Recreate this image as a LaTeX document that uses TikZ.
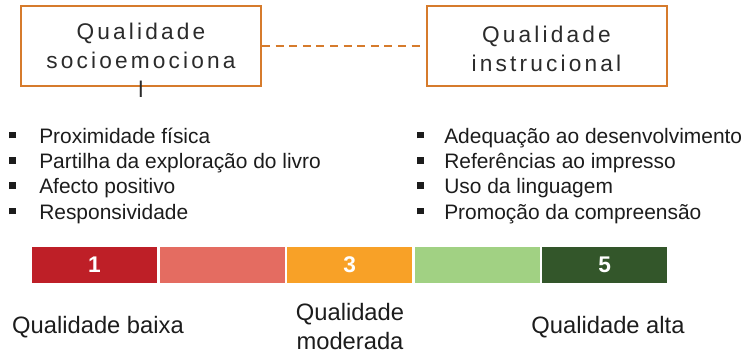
\documentclass[tikz,border=0pt]{standalone}
\usepackage{fontspec}
\setmainfont{Liberation Sans}
\usepackage{xcolor}
\usetikzlibrary{positioning}
\definecolor{boxorange}{HTML}{D67B2C}
\definecolor{boxink}{HTML}{2B2B2B}
\definecolor{listink}{HTML}{1C1C1C}
\definecolor{lowred}{HTML}{BE1F27}
\definecolor{lowpink}{HTML}{E46C61}
\definecolor{midorange}{HTML}{F8A127}
\definecolor{highlime}{HTML}{A1D183}
\definecolor{highgreen}{HTML}{33562A}
\tikzset{
  qualbox/.style={draw=boxorange,line width=1.5pt,
                  minimum width=180pt,minimum height=60pt,inner sep=0pt},
  boxtext/.style={align=center,text=boxink,inner sep=0pt,
                  font=\fontsize{17}{21.75}\selectfont\addfontfeatures{LetterSpace=14}},
  listtext/.style={align=left,text=listink,inner sep=0pt,
                   font=\fontsize{15.7}{19}\selectfont},
  barseg/.style={minimum width=93.75pt,minimum height=27pt,inner sep=0pt,
                 text=white,font=\fontsize{17}{20}\selectfont\bfseries},
  scaletext/.style={align=center,text=listink,inner sep=0pt,
                    font=\fontsize{17.8}{21.75}\selectfont},
  linkdash/.style={draw=boxorange,line width=1.5pt,dash pattern=on 6pt off 4.2pt,
                   shorten >=4pt}
}
\newcommand{\sqbul}[1][22.5pt]{\makebox[#1][l]{\rule[3.5pt]{5pt}{5pt}}}

\begin{document}
\begin{tikzpicture}[x=0.75pt,y=-0.75pt]
      \useasboundingbox (0,0) rectangle (748,351);
      % the two quality dimensions
      \node[qualbox] (socio) at (141,46) {};
      \node[qualbox] (instr) at (546.5,46) {};
      \node[boxtext,anchor=base] (sociolabel) at (141,97) {Qualidade\\socioemociona\\l};
      \node[boxtext,anchor=base] (instrlabel) at (546.5,71) {Qualidade\\instrucional};
      \draw[linkdash] (socio.east) -- (instr.west);

      % indicators of each dimension
      \node[listtext,anchor=base west] (sociolist) at (9,219)
        {\sqbul Proximidade física\\
         \sqbul Partilha da exploração do livro\\
         \sqbul Afecto positivo\\
         \sqbul Responsividade};
      \node[listtext,anchor=base west] (instrlist) at (417,219)
        {\sqbul[20.25pt]Adequação ao desenvolvimento\\
         \sqbul[20.25pt]Referências ao impresso\\
         \sqbul[20.25pt]Uso da linguagem\\
         \sqbul[20.25pt]Promoção da compreensão};

      % rating scale
      \node[barseg,fill=lowred] (seg1) at (94.5,265) {1};
      \node[barseg,fill=lowpink,right=1.5pt of seg1] (seg2) {};
      \node[barseg,fill=midorange,right=1.5pt of seg2] (seg3) {3};
      \node[barseg,fill=highlime,right=1.5pt of seg3] (seg4) {};
      \node[barseg,fill=highgreen,right=1.5pt of seg4] (seg5) {5};

      \node[scaletext,anchor=base] (lowlabel) at (98,333) {Qualidade baixa};
      \node[scaletext,anchor=base] (midlabel) at (350,349) {Qualidade\\moderada};
      \node[scaletext,anchor=base] (highlabel) at (608,333) {Qualidade alta};
    \end{tikzpicture}
\end{document}
